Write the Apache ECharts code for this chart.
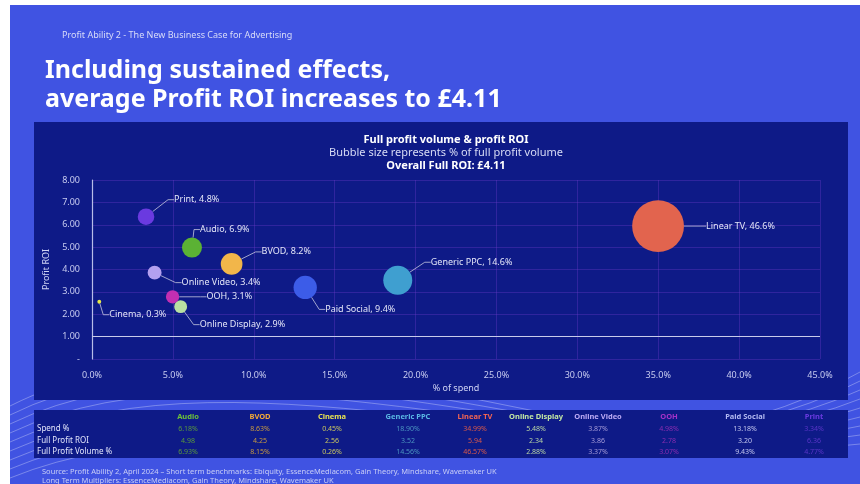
<!DOCTYPE html>
<html>
<head>
<meta charset="utf-8">
<script src="https://cdn.jsdelivr.net/npm/echarts@6/dist/echarts.min.js"></script>
<style>
  html, body { margin: 0; padding: 0; background: #ffffff; }
  #main { width: 860px; height: 484px; }
</style>
</head>
<body>
<div id="main"></div>
<script>
// data
const channels = ['Audio', 'BVOD', 'Cinema', 'Generic PPC', 'Linear TV', 'Online Display', 'Online Video', 'OOH', 'Paid Social', 'Print'];
const spendPct = [6.18, 8.63, 0.45, 18.90, 34.99, 5.48, 3.87, 4.98, 13.18, 3.34];
const profitRoi = [4.98, 4.25, 2.56, 3.52, 5.94, 2.34, 3.86, 2.78, 3.20, 6.36];
const volumePct = [6.93, 8.15, 0.26, 14.56, 46.57, 2.88, 3.37, 3.07, 9.43, 4.77];
const roiBaseline = 1;
const overallRoi = '4.11';

// styling
const bubbleColors = ['#5bb234', '#f2b64a', '#e6e84a', '#3f9fd0', '#e2644e', '#b9e0a2', '#b3a0f0', '#c22fb2', '#3c5ce8', '#6a3ae0'];
const headColors = ['#6cc13a', '#f2a936', '#e8e352', '#5ab8e4', '#f46552', '#c3e8a4', '#bcaaf4', '#a532c8', '#b3baf2', '#6a3ae0'];
const cellColors = ['#5a9a3c', '#c89a40', '#c9c660', '#4b94c0', '#d8584a', '#b9d6a4', '#a59bd8', '#8a2db0', '#c2c6ee', '#5a35c8'];
// label offset from bubble centre (text left edge, vertical middle)
const labelOffsets = [[8, -18], [30, -12], [10, 13], [33, -18], [48, 0], [19, 18], [27, 10], [34, 0], [20, 22], [28, -17]];

const FONT = '"Noto Sans", sans-serif';
const chart = echarts.init(document.getElementById('main'));

const points = channels.map((name, i) => ({
  name: name,
  value: [spendPct[i], profitRoi[i], volumePct[i]],
  itemStyle: { color: bubbleColors[i] }
}));

// table
const tableX = [188, 260, 332, 408, 475, 536, 598, 669, 745, 814];
const rowY = [417, 429, 441, 452];
const rowNames = ['Spend %', 'Full Profit ROI', 'Full Profit Volume %'];
const tableText = [];
channels.forEach((c, i) => {
  tableText.push({ type: 'text', x: tableX[i], y: rowY[0], style: { text: c, fill: headColors[i], font: 'bold 7.5px ' + FONT, align: 'center', verticalAlign: 'middle' } });
  const vals = [spendPct[i].toFixed(2) + '%', profitRoi[i].toFixed(2), volumePct[i].toFixed(2) + '%'];
  vals.forEach((v, r) => {
    tableText.push({ type: 'text', x: tableX[i], y: rowY[r + 1], style: { text: v, fill: cellColors[i], font: '7px ' + FONT, align: 'center', verticalAlign: 'middle' } });
  });
});
rowNames.forEach((n, r) => {
  tableText.push({ type: 'text', x: 37, y: rowY[r + 1], style: { text: n, fill: '#e2e5fb', font: '8px ' + FONT, verticalAlign: 'middle' } });
});

// decorative swirls behind the panels
const swirls = [];
for (let k = 0; k < 9; k++) {
  swirls.push({
    type: 'bezierCurve', silent: true, z: -9,
    shape: { x1: 10, y1: 478 - k * 9, cpx1: 250, cpy1: 380 - k * 12, cpx2: 600, cpy2: 520 - k * 6, x2: 860, y2: 372 + k * 9 },
    style: { stroke: 'rgba(255,255,255,0.3)', lineWidth: 1, fill: null }
  });
}

chart.setOption({
  backgroundColor: '#ffffff',
  textStyle: { fontFamily: FONT },
  graphic: [
    { type: 'rect', z: -10, shape: { x: 10, y: 5, width: 850, height: 479 }, style: { fill: '#4053e2' } }
  ].concat(swirls).concat([
    { type: 'rect', z: -8, shape: { x: 34, y: 122, width: 814, height: 278 }, style: { fill: '#0e1a87' } },
    { type: 'rect', z: -8, shape: { x: 34, y: 410, width: 814, height: 48 }, style: { fill: '#0e1a87' } },
    { type: 'text', x: 62, y: 35, style: { text: 'Profit Ability 2 - The New Business Case for Advertising', fill: '#d8dcf8', font: '9px ' + FONT, verticalAlign: 'middle' } },
    { type: 'text', x: 45, y: 71, style: { text: 'Including sustained effects,', fill: '#ffffff', font: 'bold 25px ' + FONT, verticalAlign: 'middle' } },
    { type: 'text', x: 45, y: 100, style: { text: 'average Profit ROI increases to £' + overallRoi, fill: '#ffffff', font: 'bold 25px ' + FONT, verticalAlign: 'middle' } },
    { type: 'text', x: 42, y: 472, style: { text: 'Source: Profit Ability 2, April 2024 – Short term benchmarks: Ebiquity, EssenceMediacom, Gain Theory, Mindshare, Wavemaker UK', fill: '#c8cdf6', font: '7.5px ' + FONT, verticalAlign: 'middle' } },
    { type: 'text', x: 42, y: 481, style: { text: 'Long Term Multipliers: EssenceMediacom, Gain Theory, Mindshare, Wavemaker UK', fill: '#c8cdf6', font: '7.5px ' + FONT, verticalAlign: 'middle' } },
    { type: 'group', z: 5, children: tableText }
  ]),
  title: [
    { text: 'Full profit volume & profit ROI', left: 441, top: 129, textAlign: 'center', textStyle: { color: '#ffffff', fontSize: 11, fontWeight: 'bold', fontFamily: FONT } },
    { text: 'Bubble size represents % of full profit volume', left: 441, top: 142, textAlign: 'center', textStyle: { color: '#d8dcf6', fontSize: 11, fontWeight: 'normal', fontFamily: FONT } },
    { text: 'Overall Full ROI: £' + overallRoi, left: 441, top: 155, textAlign: 'center', textStyle: { color: '#ffffff', fontSize: 11, fontWeight: 'bold', fontFamily: FONT } }
  ],
  grid: { left: 92, right: 40, top: 180, bottom: 125 },
  xAxis: {
    type: 'value', min: 0, max: 45, interval: 5,
    name: '% of spend', nameLocation: 'middle', nameGap: 25,
    nameTextStyle: { color: '#d0d4f4', fontSize: 9 },
    axisLine: { show: false }, axisTick: { show: false },
    axisLabel: { color: '#c8ccf0', fontSize: 9, margin: 12, formatter: v => v.toFixed(1) + '%' },
    splitLine: { show: true, lineStyle: { color: 'rgba(110,60,200,0.35)', width: 1 } }
  },
  yAxis: {
    type: 'value', min: 0, max: 8, interval: 1,
    name: 'Profit ROI', nameLocation: 'middle', nameGap: 30, nameRotate: 90,
    nameTextStyle: { color: '#d0d4f4', fontSize: 9 },
    axisLine: { show: true, lineStyle: { color: '#b8bde8', width: 1.2 } }, axisTick: { show: false },
    axisLabel: { color: '#c8ccf0', fontSize: 9, margin: 12, formatter: v => v === 0 ? '-' : v.toFixed(2) },
    splitLine: { show: true, lineStyle: { color: 'rgba(110,60,200,0.35)', width: 1 } }
  },
  series: [{
    type: 'scatter',
    data: points,
    symbolSize: d => 7.6 * Math.sqrt(d[2]),
    itemStyle: { opacity: 1 },
    label: {
      show: true, position: 'inside',
      color: '#e4e6f8', fontSize: 9,
      formatter: p => p.name + ', ' + p.value[2].toFixed(1) + '%'
    },
    labelLayout: p => ({
      dx: labelOffsets[p.dataIndex][0],
      dy: labelOffsets[p.dataIndex][1],
      align: 'left', verticalAlign: 'middle'
    }),
    labelLine: { show: true, length2: 6, lineStyle: { color: '#c6c8e0', width: 0.8 } },
    markLine: {
      silent: true, symbol: 'none', label: { show: false },
      lineStyle: { color: '#c8cbea', width: 1.2, type: 'solid' },
      data: [{ yAxis: roiBaseline }]
    }
  }]
});
</script>
</body>
</html>
